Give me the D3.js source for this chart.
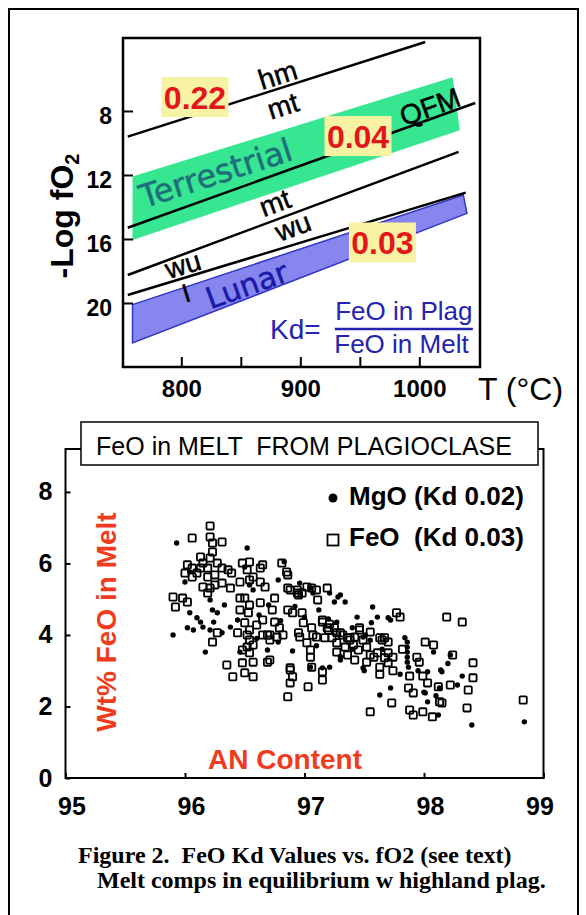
<!DOCTYPE html>
<html>
<head>
<meta charset="utf-8">
<script src="https://cdn.jsdelivr.net/npm/d3@7"></script>
<style>
body { margin: 0; background: #fff; }
svg { display: block; font-family: "Liberation Sans", Arial, sans-serif; }
</style>
</head>
<body>
<div id="chart"></div>
<script>
// top panel: buffer curves, -log fO2 vs T
var tempTicks = [800, 850, 900, 950, 1000],
	tempLabels = [800, 900, 1000],
	fo2Ticks = [8, 12, 16, 20];

var hmMt = [[755, 9.6], [1005, 3.69]],
	qfm = [[755, 15.3], [1047, 7.5]],
	mtWu = [[755, 18.25], [1033, 10.56]],
	wuFe = [[755, 19.5], [1039, 13.1]];

var terrestrial = [[759, 12.1], [1028, 5.9], [1034, 9.2], [759, 16.06]],
	lunar = [[759, 20.1], [1037, 13.25], [1040, 14.4], [759, 22.5]];

var kdValues = ["0.22", "0.04", "0.03"];

// bottom panel: wt% FeO in melt vs AN content
var anTicks = [95, 96, 97, 98, 99],
	meltTicks = [0, 2, 4, 6, 8];

var feoPoints = [
	[96.21, 7.05], [96.06, 6.71], [96.21, 6.74], [96.23, 6.57], [96.31, 6.60], [96.23, 6.32], [96.21, 6.15],
	[96.02, 5.96], [96.06, 5.87], [96.13, 6.18], [96.15, 6.01], [96.19, 5.87], [96.27, 6.01], [96.31, 5.87],
	[96.36, 5.82], [96.39, 5.73], [96.00, 5.73], [96.06, 5.62], [96.10, 5.73], [96.19, 5.62], [96.25, 5.68],
	[96.13, 5.87], [96.48, 6.01], [96.54, 6.04], [96.65, 5.96], [96.52, 5.82], [96.46, 5.48], [96.54, 5.54],
	[96.67, 5.34], [96.15, 5.34], [96.21, 5.31], [96.25, 5.40], [96.31, 5.45], [96.38, 5.31], [96.19, 5.17],
	[95.90, 5.06], [95.92, 4.78], [95.98, 5.03], [96.02, 4.92],
	[96.46, 4.70], [96.53, 4.62], [96.50, 4.34], [96.54, 4.14], [96.60, 4.28], [96.65, 4.42], [96.52, 4.00],
	[96.27, 4.06], [96.46, 5.03], [96.50, 5.03], [96.63, 4.90], [96.54, 4.84], [96.63, 5.48], [96.85, 5.76],
	[96.86, 5.68], [96.88, 5.26], [96.94, 5.26], [96.98, 5.17], [97.02, 5.34], [97.10, 5.26],
	[96.23, 3.80], [96.44, 4.06], [96.54, 3.86], [96.57, 3.72], [96.52, 3.66], [96.54, 3.50], [96.48, 3.58],
	[96.57, 3.24], [96.48, 3.22], [96.35, 3.16], [96.40, 2.83], [96.50, 2.94], [96.57, 2.83], [96.69, 3.24],
	[96.88, 3.02], [96.90, 2.83], [96.88, 2.66], [96.86, 2.27], [97.03, 2.55], [97.06, 3.10], [97.15, 2.74],
	[97.15, 2.97], [96.65, 4.00], [96.71, 4.00], [96.77, 3.94], [96.82, 4.00], [96.96, 3.94], [97.02, 3.78],
	[97.05, 3.58], [97.10, 3.94],
	[96.81, 6.01], [96.86, 5.31], [96.94, 5.17], [97.06, 5.31], [96.75, 5.03], [96.73, 4.70], [96.75, 4.36],
	[96.79, 4.20], [96.86, 4.70], [96.90, 4.62], [96.98, 4.62], [96.99, 4.34], [97.06, 4.20], [97.07, 4.00],
	[96.95, 4.06], [97.15, 4.36], [97.20, 4.14], [97.17, 3.92], [97.23, 3.92], [97.27, 3.78], [97.30, 4.06],
	[97.36, 3.92], [97.41, 3.72], [97.46, 4.14], [97.45, 3.58], [97.52, 3.66], [97.55, 3.44], [97.61, 3.50],
	[97.63, 3.10], [97.65, 3.86], [97.70, 3.50], [97.67, 3.36], [97.74, 3.38], [97.77, 4.62], [96.71, 3.86],
	[96.71, 3.30], [96.88, 3.08], [97.05, 3.38],
	[97.80, 4.50], [98.19, 4.50], [98.32, 4.36], [97.55, 4.08], [97.63, 3.92], [97.70, 3.80], [98.01, 3.80],
	[98.08, 3.72], [98.24, 3.44], [97.94, 3.38], [97.96, 3.24], [98.03, 2.66], [98.12, 2.55], [98.22, 2.60],
	[98.37, 2.46], [98.41, 2.80], [97.88, 2.85], [97.87, 2.52], [97.91, 2.38], [97.99, 2.85], [98.13, 2.13],
	[97.99, 1.85], [98.07, 1.71], [97.91, 1.76], [97.88, 1.90], [97.73, 2.10], [98.41, 3.22], [98.36, 1.96],
	[98.83, 2.18], [97.55, 1.85], [98.15, 2.10],
	[97.15, 4.42], [97.21, 4.30], [97.25, 4.20], [97.32, 4.00], [97.38, 3.86], [97.42, 3.94], [97.34, 3.66],
	[97.49, 3.86], [97.27, 3.52], [97.36, 3.44], [97.42, 3.30], [97.52, 3.24], [97.58, 3.38], [97.70, 3.22],
	[97.74, 3.00], [97.63, 2.90], [97.82, 3.60],
	[96.63, 5.87], [96.57, 5.62], [96.95, 5.12], [97.19, 5.31], [97.11, 4.98], [97.46, 4.20], [97.67, 3.92],
	[96.69, 4.00], [97.19, 4.20], [97.27, 4.06], [97.38, 3.92]
];

var mgoPoints = [
	[95.93, 6.57], [96.52, 6.43], [96.00, 5.48], [96.04, 5.76], [96.21, 4.98], [96.50, 5.90], [96.54, 5.40],
	[96.57, 5.26], [95.90, 4.00], [96.02, 4.20], [96.04, 4.62], [96.10, 4.48], [96.13, 4.36], [96.23, 4.70],
	[96.27, 4.62], [96.33, 4.84], [96.24, 4.36], [96.15, 4.22], [96.21, 4.14], [96.38, 4.22], [96.44, 4.42],
	[96.78, 5.54], [96.96, 5.45], [96.17, 3.52], [96.31, 4.06], [96.07, 4.14], [96.78, 3.80], [97.05, 3.10],
	[96.69, 3.58], [96.46, 3.52], [96.83, 6.05],
	[97.07, 5.17], [97.21, 5.17], [97.25, 4.92], [97.30, 5.12], [97.34, 4.92], [97.56, 4.34], [97.57, 4.78],
	[97.61, 4.50], [97.70, 4.48], [97.15, 3.08], [97.21, 3.10], [97.30, 3.30], [97.49, 3.08], [97.28, 5.06],
	[97.44, 4.50], [97.27, 4.36], [97.05, 5.31],
	[97.72, 4.42], [97.51, 4.00], [97.84, 3.92], [97.86, 3.80], [97.86, 3.66], [97.86, 3.52], [97.86, 3.38],
	[97.86, 3.24], [97.87, 3.10], [98.03, 2.97], [98.15, 2.97], [98.22, 3.44], [97.63, 2.32], [97.72, 2.52],
	[98.03, 2.13], [98.40, 1.48], [98.84, 1.57], [98.13, 2.52], [97.50, 3.00], [97.40, 3.60], [98.32, 2.85],
	[98.14, 3.02], [98.12, 1.76], [98.08, 3.52], [98.01, 2.38], [97.49, 3.94],
	[96.62, 4.56], [96.70, 4.84], [96.80, 4.40], [96.92, 4.80], [97.00, 4.50], [97.12, 4.70], [97.20, 4.45],
	[97.40, 4.20], [97.10, 3.70], [97.30, 3.40], [96.90, 3.55], [96.60, 3.90], [97.55, 3.85], [97.65, 3.60],
	[97.95, 3.00], [98.00, 2.40], [97.80, 2.90], [98.10, 2.30], [98.28, 2.60], [98.20, 3.20]
];

var W = 586, H = 915;
var red = "#e3161b", orange = "#f03c1c", yellow = "#f8f2a4";
var nb = "\u00a0";

var svg = d3.select("#chart").append("svg")
	.attr("width", W)
	.attr("height", H);

// page frame
svg.append("rect")
	.attr("x", 9).attr("y", 9)
	.attr("width", 569).attr("height", 930)
	.style("fill", "none").style("stroke", "#000").style("stroke-width", 2);

// ---------- top panel ----------
var x1 = d3.scaleLinear().domain([751, 1051]).range([123, 480]),
	y1 = d3.scaleLinear().domain([3.44, 24]).range([38, 367]);

var topG = svg.append("g");
var poly = d3.line().x(function(d) { return x1(d[0]); }).y(function(d) { return y1(d[1]); });

topG.append("path")
	.attr("d", poly(terrestrial) + "Z")
	.style("fill", "#36e690");

topG.append("path")
	.attr("d", poly(lunar) + "Z")
	.style("fill", "#8686ee")
	.style("stroke", "#3434c8")
	.style("stroke-width", 1.5);

topG.selectAll(".buffer")
	.data([hmMt, qfm, mtWu, wuFe])
	.enter().append("path")
	.attr("class", "buffer")
	.attr("d", poly)
	.style("fill", "none")
	.style("stroke", "#000")
	.style("stroke-width", 2.5);

function angleOf(l) {
	return Math.atan2(y1(l[1][1]) - y1(l[0][1]), x1(l[1][0]) - x1(l[0][0])) * 180 / Math.PI;
}

function label(T, f, txt, angle, size, color, family) {
	topG.append("text")
		.attr("transform", "translate(" + x1(T) + "," + y1(f) + ") rotate(" + angle + ")")
		.attr("text-anchor", "middle")
		.attr("dominant-baseline", "central")
		.style("font-size", size + "px")
		.style("font-family", family || null)
		.style("fill", color || "#000")
		.style("stroke", color || "#000")
		.style("stroke-width", 0.5)
		.text(txt);
}

label(881, 5.75, "hm", angleOf(hmMt), 28);
label(885.5, 7.69, "mt", angleOf(hmMt), 28);
label(1009, 7.75, "QFM", angleOf(qfm), 28);
label(878.7, 13.75, "mt", angleOf(mtWu), 28);
label(893.9, 15.25, "wu", angleOf(mtWu), 28);
label(801.4, 17.63, "wu", angleOf(wuFe), 28);
label(804, 19.38, "I", angleOf(wuFe), 26);
label(829, 11.9, "Terrestrial", -18, 32, "#1f6f7a", "DejaVu Sans");
label(855, 18.88, "Lunar", -20, 30, "#1a1aa8", "DejaVu Sans");

// Kd tags
function tag(T, f, txt) {
	var cx = x1(T), cy = y1(f);
	topG.append("rect")
		.attr("x", cx - 33.5).attr("y", cy - 20)
		.attr("width", 67).attr("height", 40)
		.style("fill", yellow);
	topG.append("text")
		.attr("x", cx).attr("y", cy + 11.5)
		.attr("text-anchor", "middle")
		.style("font-size", "32px")
		.style("font-weight", "bold")
		.style("fill", red)
		.text(txt);
}
tag(811.5, 7.13, kdValues[0]);
tag(948.5, 9.57, kdValues[1]);
tag(969, 16.22, kdValues[2]);

// Kd = FeO in Plag / FeO in Melt
var blue = "#2424b0";
topG.append("text")
	.attr("x", x1(874.5)).attr("y", y1(22.25))
	.style("font-size", "28px").style("fill", blue)
	.text("Kd=");
topG.append("text")
	.attr("x", x1(987)).attr("y", y1(21.06))
	.attr("text-anchor", "middle")
	.style("font-size", "26px").style("fill", blue)
	.text("FeO in Plag");
topG.append("line")
	.attr("x1", x1(929)).attr("x2", x1(1045))
	.attr("y1", y1(21.63)).attr("y2", y1(21.63))
	.style("stroke", blue).style("stroke-width", 2.5);
topG.append("text")
	.attr("x", x1(985)).attr("y", y1(23.13))
	.attr("text-anchor", "middle")
	.style("font-size", "26px").style("fill", blue)
	.text("FeO in Melt");

// axes
var xAxis1 = topG.append("g")
	.attr("transform", "translate(0,367)")
	.call(d3.axisBottom(x1).tickValues(tempTicks).tickSize(-10).tickPadding(13)
		.tickFormat(function(d) { return tempLabels.indexOf(d) >= 0 ? d : ""; }));
var yAxis1 = topG.append("g")
	.attr("transform", "translate(123,0)")
	.call(d3.axisLeft(y1).tickValues(fo2Ticks).tickSize(-10).tickPadding(11));

[xAxis1, yAxis1].forEach(function(a) {
	a.select(".domain").remove();
	a.selectAll("line").style("stroke", "#000").style("stroke-width", 2);
	a.selectAll("text")
		.style("font-family", "Liberation Sans, Arial, sans-serif")
		.style("font-weight", "bold")
		.style("fill", "#000");
});
xAxis1.selectAll("text").style("font-size", "24px");
yAxis1.selectAll("text").style("font-size", "23px").attr("dy", "0.55em");

topG.append("rect")
	.attr("x", 123).attr("y", 38)
	.attr("width", 357).attr("height", 329)
	.style("fill", "none").style("stroke", "#000").style("stroke-width", 2.5);

topG.append("text")
	.attr("x", 478).attr("y", 400)
	.style("font-size", "32px")
	.text("T (°C)");

var ylab = topG.append("text")
	.attr("transform", "translate(73,216) rotate(-90)")
	.attr("text-anchor", "middle")
	.style("font-size", "32px")
	.style("font-weight", "bold");
ylab.append("tspan").text("-Log fO");
ylab.append("tspan").attr("dy", "0.3em").style("font-size", "20px").text("2");

// ---------- bottom panel ----------
var x2 = d3.scaleLinear().domain([95, 99]).range([65.5, 543.5]),
	y2 = d3.scaleLinear().domain([0, 9.2]).range([778, 449]);

var botG = svg.append("g");

botG.append("rect")
	.attr("x", 65.5).attr("y", 449)
	.attr("width", 478).attr("height", 329)
	.style("fill", "none").style("stroke", "#000").style("stroke-width", 2);

var xAxis2 = botG.append("g")
	.attr("transform", "translate(0,778)")
	.call(d3.axisBottom(x2).tickValues(anTicks).tickSize(-5).tickPadding(19).tickFormat(d3.format("d")));
var yAxis2 = botG.append("g")
	.attr("transform", "translate(65.5,0)")
	.call(d3.axisLeft(y2).tickValues(meltTicks).tickSize(-5).tickPadding(13));

[xAxis2, yAxis2].forEach(function(a) {
	a.select(".domain").remove();
	a.selectAll("line").style("stroke", "#000").style("stroke-width", 2);
	a.selectAll("text")
		.style("font-family", "Liberation Sans, Arial, sans-serif")
		.style("font-size", "25px")
		.style("font-weight", "bold")
		.style("fill", "#000");
});
xAxis2.selectAll("text").attr("dx", function(d) { return d === 99 ? -4 : 6; });

botG.selectAll(".feo")
	.data(feoPoints)
	.enter().append("rect")
	.attr("class", "feo")
	.attr("x", function(d) { return x2(d[0]) - 3.6; })
	.attr("y", function(d) { return y2(d[1]) - 3.6; })
	.attr("width", 7.2).attr("height", 7.2)
	.attr("rx", 1)
	.style("fill", "none").style("stroke", "#000").style("stroke-width", 1.8);

botG.selectAll(".mgo")
	.data(mgoPoints)
	.enter().append("circle")
	.attr("class", "mgo")
	.attr("cx", function(d) { return x2(d[0]); })
	.attr("cy", function(d) { return y2(d[1]); })
	.attr("r", 2.7)
	.style("fill", "#000");

// title box
botG.append("rect")
	.attr("x", 81).attr("y", 422)
	.attr("width", 457).attr("height", 43)
	.style("fill", "#fff").style("stroke", "#000").style("stroke-width", 1.5);
botG.append("text")
	.attr("x", 304).attr("y", 455)
	.attr("text-anchor", "middle")
	.style("font-size", "25px")
	.text("FeO in MELT " + nb + "FROM PLAGIOCLASE");

// legend
botG.append("circle").attr("cx", 333).attr("cy", 498).attr("r", 4.5).style("fill", "#000");
botG.append("rect").attr("x", 327.5).attr("y", 534.5).attr("width", 11).attr("height", 11)
	.style("fill", "none").style("stroke", "#000").style("stroke-width", 1.8);
botG.append("text").attr("x", 349).attr("y", 505)
	.style("font-size", "26px").style("font-weight", "bold")
	.text("MgO (Kd 0.02)");
botG.append("text").attr("x", 349).attr("y", 546)
	.style("font-size", "26px").style("font-weight", "bold")
	.text("FeO " + nb + "(Kd 0.03)");

botG.append("text")
	.attr("x", 285).attr("y", 769)
	.attr("text-anchor", "middle")
	.style("font-size", "28px").style("font-weight", "bold").style("fill", orange)
	.text("AN Content");

botG.append("text")
	.attr("transform", "translate(116,622) rotate(-90)")
	.attr("text-anchor", "middle")
	.style("font-size", "28px").style("font-weight", "bold").style("fill", orange)
	.text("Wt% FeO in Melt");

// caption
var cap = svg.append("g")
	.style("font-family", "Liberation Serif, Times New Roman, serif")
	.style("font-size", "24px")
	.style("font-weight", "bold");
cap.append("text").attr("x", 78).attr("y", 863).text("Figure 2. " + nb + "FeO Kd Values vs. fO2 (see text)");
cap.append("text").attr("x", 97).attr("y", 888).text("Melt comps in equilibrium w highland plag.");
</script>
</body>
</html>
